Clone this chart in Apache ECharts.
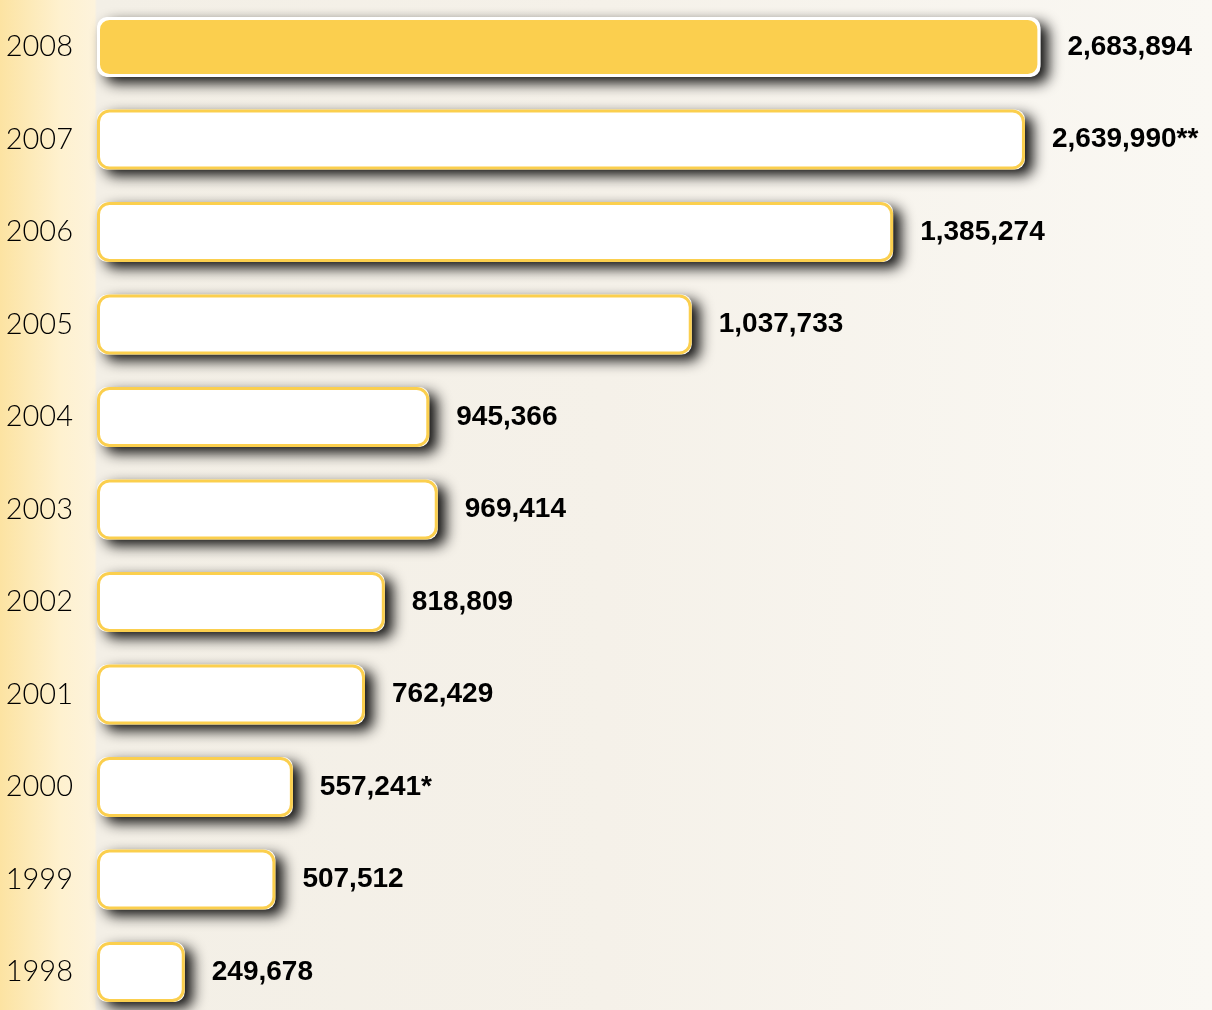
<!DOCTYPE html>
<html lang="en">
  <head>
    <meta charset="UTF-8" />
    <title>Bars 1998-2008</title>
    <style>
      html, body { margin: 0; padding: 0; }
      #main { width: 1212px; height: 1010px; }
    </style>
  </head>
  <body>
    <div id="main"></div>
    <script src="https://cdn.jsdelivr.net/npm/echarts@6/dist/echarts.min.js"></script>
    <script>
      // bottom to top
      const years = ["1998", "1999", "2000", "2001", "2002", "2003", "2004", "2005", "2006", "2007", "2008"];
      // printed values
      const valueLabels = ["249,678", "507,512", "557,241*", "762,429", "818,809", "969,414", "945,366", "1,037,733", "1,385,274", "2,639,990**", "2,683,894"];
      // bar lengths as drawn (2005 and 2006 bars are drawn longer than their printed value)
      const barValues = [249678, 507512, 557241, 762429, 818809, 969414, 945366, 1692000, 2265000, 2639990, 2683894];

      const yellow = "#FBCF4E";
      const last = barValues.length - 1;

      const chart = echarts.init(document.getElementById("main"));

      chart.setOption({
        animation: false,
        backgroundColor: {
          type: "linear", x: 0, y: 0, x2: 1, y2: 0,
          colorStops: [
            { offset: 0, color: "#FCE3A2" },
            { offset: 0.05, color: "#FEF1CF" },
            { offset: 0.078, color: "#FDF3DC" },
            { offset: 0.08, color: "#F3EFE6" },
            { offset: 0.5, color: "#F5F1E9" },
            { offset: 1, color: "#FAF8F3" }
          ]
        },
        grid: { left: 97, right: 60.5, top: 0.75, height: 1017.5, outerBoundsMode: "none", containLabel: false },
        xAxis: {
          type: "value",
          min: 0,
          max: 3000000,
          show: false
        },
        yAxis: {
          type: "category",
          data: years,
          axisLine: { show: false },
          axisTick: { show: false },
          splitLine: { show: false },
          axisLabel: {
            margin: 24,
            fontFamily: "Lato",
            fontWeight: 300,
            fontSize: 29,
            color: "#000"
          }
        },
        series: [
          {
            // shadow layer
            type: "bar",
            data: barValues,
            barWidth: 60,
            barGap: "-100%",
            silent: true,
            itemStyle: {
              color: "#FFFFFF",
              borderRadius: 10,
              shadowColor: "rgba(0,0,0,0.95)",
              shadowBlur: 14,
              shadowOffsetX: 8,
              shadowOffsetY: 6
            }
          },
          {
            type: "bar",
            data: barValues.map((v, i) => ({
              value: v,
              itemStyle: i === last
                ? { color: yellow, borderColor: "#FFFFFF" }
                : { color: "#FFFFFF", borderColor: yellow }
            })),
            barWidth: 60,
            barGap: "-100%",
            itemStyle: {
              borderWidth: 3,
              borderRadius: 11
            },
            label: {
              show: true,
              position: "right",
              distance: 27,
              fontFamily: "Liberation Sans",
              fontWeight: "bold",
              fontSize: 28,
              color: "#000",
              formatter: (p) => valueLabels[p.dataIndex]
            }
          }
        ]
      });
    </script>
  </body>
</html>
